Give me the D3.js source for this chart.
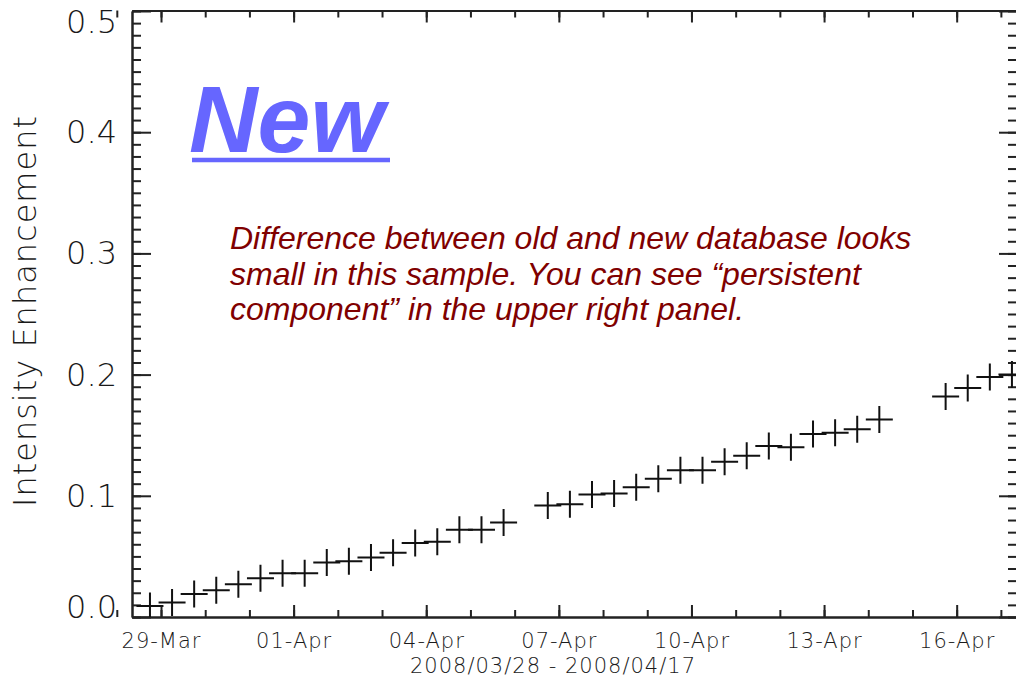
<!DOCTYPE html>
<html>
<head>
<meta charset="utf-8">
<script src="https://cdn.jsdelivr.net/npm/d3@7"></script>
<style>
  body { margin: 0; background: #fff; }
  svg { display: block; }
</style>
</head>
<body>
<svg width="1016" height="681"></svg>
<script>
// samples (UTC, 12 h cadence) and intensity enhancement
var sampleTimes = [
  "2008-03-28T18:00Z", "2008-03-29T06:00Z", "2008-03-29T18:00Z", "2008-03-30T06:00Z",
  "2008-03-30T18:00Z", "2008-03-31T06:00Z", "2008-03-31T18:00Z", "2008-04-01T06:00Z",
  "2008-04-01T18:00Z", "2008-04-02T06:00Z", "2008-04-02T18:00Z", "2008-04-03T06:00Z",
  "2008-04-03T18:00Z", "2008-04-04T06:00Z", "2008-04-04T18:00Z", "2008-04-05T06:00Z",
  "2008-04-05T18:00Z",
  "2008-04-06T18:00Z", "2008-04-07T06:00Z", "2008-04-07T18:00Z", "2008-04-08T06:00Z",
  "2008-04-08T18:00Z", "2008-04-09T06:00Z", "2008-04-09T18:00Z", "2008-04-10T06:00Z",
  "2008-04-10T18:00Z", "2008-04-11T06:00Z", "2008-04-11T18:00Z", "2008-04-12T06:00Z",
  "2008-04-12T18:00Z", "2008-04-13T06:00Z", "2008-04-13T18:00Z", "2008-04-14T06:00Z",
  "2008-04-15T18:00Z", "2008-04-16T06:00Z", "2008-04-16T18:00Z", "2008-04-17T06:00Z"
]
var enhancement = [
  0.009, 0.012, 0.019, 0.022, 0.027, 0.032, 0.036, 0.036,
  0.045, 0.046, 0.049, 0.053, 0.061, 0.062, 0.072, 0.072,
  0.078,
  0.092, 0.093, 0.101, 0.102, 0.107, 0.114, 0.121, 0.121,
  0.128, 0.133, 0.141, 0.140, 0.151, 0.152, 0.155, 0.163,
  0.182, 0.189, 0.198, 0.200
]
var majorDates = ["2008-03-29", "2008-04-01", "2008-04-04", "2008-04-07",
                  "2008-04-10", "2008-04-13", "2008-04-16"]
var yMajor = [0, 0.1, 0.2, 0.3, 0.4, 0.5]
var yTitle = "Intensity Enhancement"
var xTitle = "2008/03/28 - 2008/04/17"
var headline = "New"
var note = [
  "Difference between old and new database looks",
  "small in this sample. You can see \u201cpersistent",
  "component\u201d in the upper right panel."
]

var svg = d3.select('svg')
var margin = {left: 132, right: -1, top: 10.5, bottom: 64}
var width = 1016, height = 681
var ink = "#222"
var axisFont = "'DejaVu Sans ExtraLight', 'DejaVu Sans', sans-serif"
var axisInk = "#1a1a1a"

var data = sampleTimes.map((t, i) => ({t: new Date(t), v: enhancement[i]}))

var x = d3.scaleUtc()
  .domain([new Date("2008-03-28T08:15Z"), new Date("2008-04-17T08:45Z")])
  .range([margin.left, width - margin.right])
var y = d3.scaleLinear()
  .domain([0, 0.5])
  .range([height - margin.bottom, 11])

var allDays = d3.utcDay.range(new Date("2008-03-28Z"), new Date("2008-04-18Z"))
var majors = majorDates.map(d => new Date(d + "T00:00Z"))
var yMinor = d3.range(0, 0.5001, 0.01)
var fmt = d3.utcFormat("%d-%b")

function styleAxis(g) {
  g.select(".domain").attr("stroke", ink).attr("stroke-width", 2)
  g.selectAll(".tick line").attr("stroke", ink).attr("stroke-width", 2)
}

// bottom
svg.append("g")
  .attr("transform", `translate(0,${y(0)})`)
  .call(d3.axisBottom(x).tickValues(allDays).tickSize(-7).tickSizeOuter(0).tickFormat(""))
  .call(styleAxis)
svg.append("g")
  .attr("transform", `translate(0,${y(0)})`)
  .call(d3.axisBottom(x).tickValues(majors).tickSize(-12).tickSizeOuter(0).tickPadding(16).tickFormat(fmt))
  .call(styleAxis)
  .call(g => g.selectAll("text")
    .attr("fill", axisInk)
    .style("font", "200 21px " + axisFont)
    .style("letter-spacing", "1px"))

// top
svg.append("g")
  .attr("transform", `translate(0,${y(0.5) - 0.5})`)
  .call(d3.axisTop(x).tickValues(allDays).tickSize(-7).tickSizeOuter(0).tickFormat(""))
  .call(styleAxis)
svg.append("g")
  .attr("transform", `translate(0,${y(0.5) - 0.5})`)
  .call(d3.axisTop(x).tickValues(majors).tickSize(-12).tickSizeOuter(0).tickFormat(""))
  .call(styleAxis)

// left
svg.append("g")
  .attr("transform", `translate(${margin.left},0)`)
  .call(d3.axisLeft(y).tickValues(yMinor).tickSize(-9).tickSizeOuter(0).tickFormat(""))
  .call(styleAxis)
svg.append("g")
  .attr("transform", `translate(${margin.left},0)`)
  .call(d3.axisLeft(y).tickValues(yMajor).tickSize(-19).tickSizeOuter(0).tickPadding(15).tickFormat(d3.format(".1f")))
  .call(styleAxis)
  .call(g => g.selectAll("text")
    .attr("fill", axisInk)
    .style("font", "200 32px " + axisFont)
    .attr("dy", d => d === 0 ? "0.0em" : d === 0.5 ? "0.66em" : "0.33em"))

// right
svg.append("g")
  .attr("transform", `translate(${width - margin.right},0)`)
  .call(d3.axisRight(y).tickValues(yMinor).tickSize(-9).tickSizeOuter(0).tickFormat(""))
  .call(styleAxis)
svg.append("g")
  .attr("transform", `translate(${width - margin.right},0)`)
  .call(d3.axisRight(y).tickValues(yMajor).tickSize(-18).tickSizeOuter(0).tickFormat(""))
  .call(styleAxis)

// axis titles
svg.append("text")
  .attr("transform", `translate(36,311) rotate(-90)`)
  .attr("text-anchor", "middle")
  .attr("fill", axisInk)
  .style("font", "200 32px " + axisFont)
  .style("letter-spacing", "1px")
  .text(yTitle)

svg.append("text")
  .attr("x", 553)
  .attr("y", 673)
  .attr("text-anchor", "middle")
  .attr("fill", axisInk)
  .style("font", "200 21px " + axisFont)
  .style("letter-spacing", "1px")
  .text(xTitle)

// data: '+' symbols clipped to the plot box
svg.append("clipPath").attr("id", "plotclip")
  .append("rect")
  .attr("x", margin.left).attr("y", y(0.5))
  .attr("width", width - margin.right - margin.left)
  .attr("height", y(0) - y(0.5))

svg.append("g")
  .attr("clip-path", "url(#plotclip)")
  .attr("fill", "none")
  .attr("stroke", "#111")
  .attr("stroke-width", 2)
  .selectAll("path")
  .data(data)
  .enter()
  .append("path")
  .attr("transform", d => `translate(${x(d.t)},${y(d.v)})`)
  .attr("d", "M-13.5,0H13.5M0,-13.5V13.5")

// headline
svg.append("text")
  .attr("x", 189)
  .attr("y", 152)
  .attr("fill", "#6666ff")
  .style("font", "italic bold 95px 'Liberation Sans', Arial, sans-serif")
  .text(headline)
svg.append("line")
  .attr("x1", 192).attr("x2", 390)
  .attr("y1", 160).attr("y2", 160)
  .attr("stroke", "#6666ff")
  .attr("stroke-width", 4.5)

// annotation
svg.append("g")
  .selectAll("text")
  .data(note)
  .enter()
  .append("text")
  .attr("x", 230)
  .attr("y", (d, i) => 249 + i * 35.5)
  .attr("fill", "#800000")
  .style("font", "italic 32px 'Liberation Sans', Arial, sans-serif")
  .text(d => d)
</script>
</body>
</html>
